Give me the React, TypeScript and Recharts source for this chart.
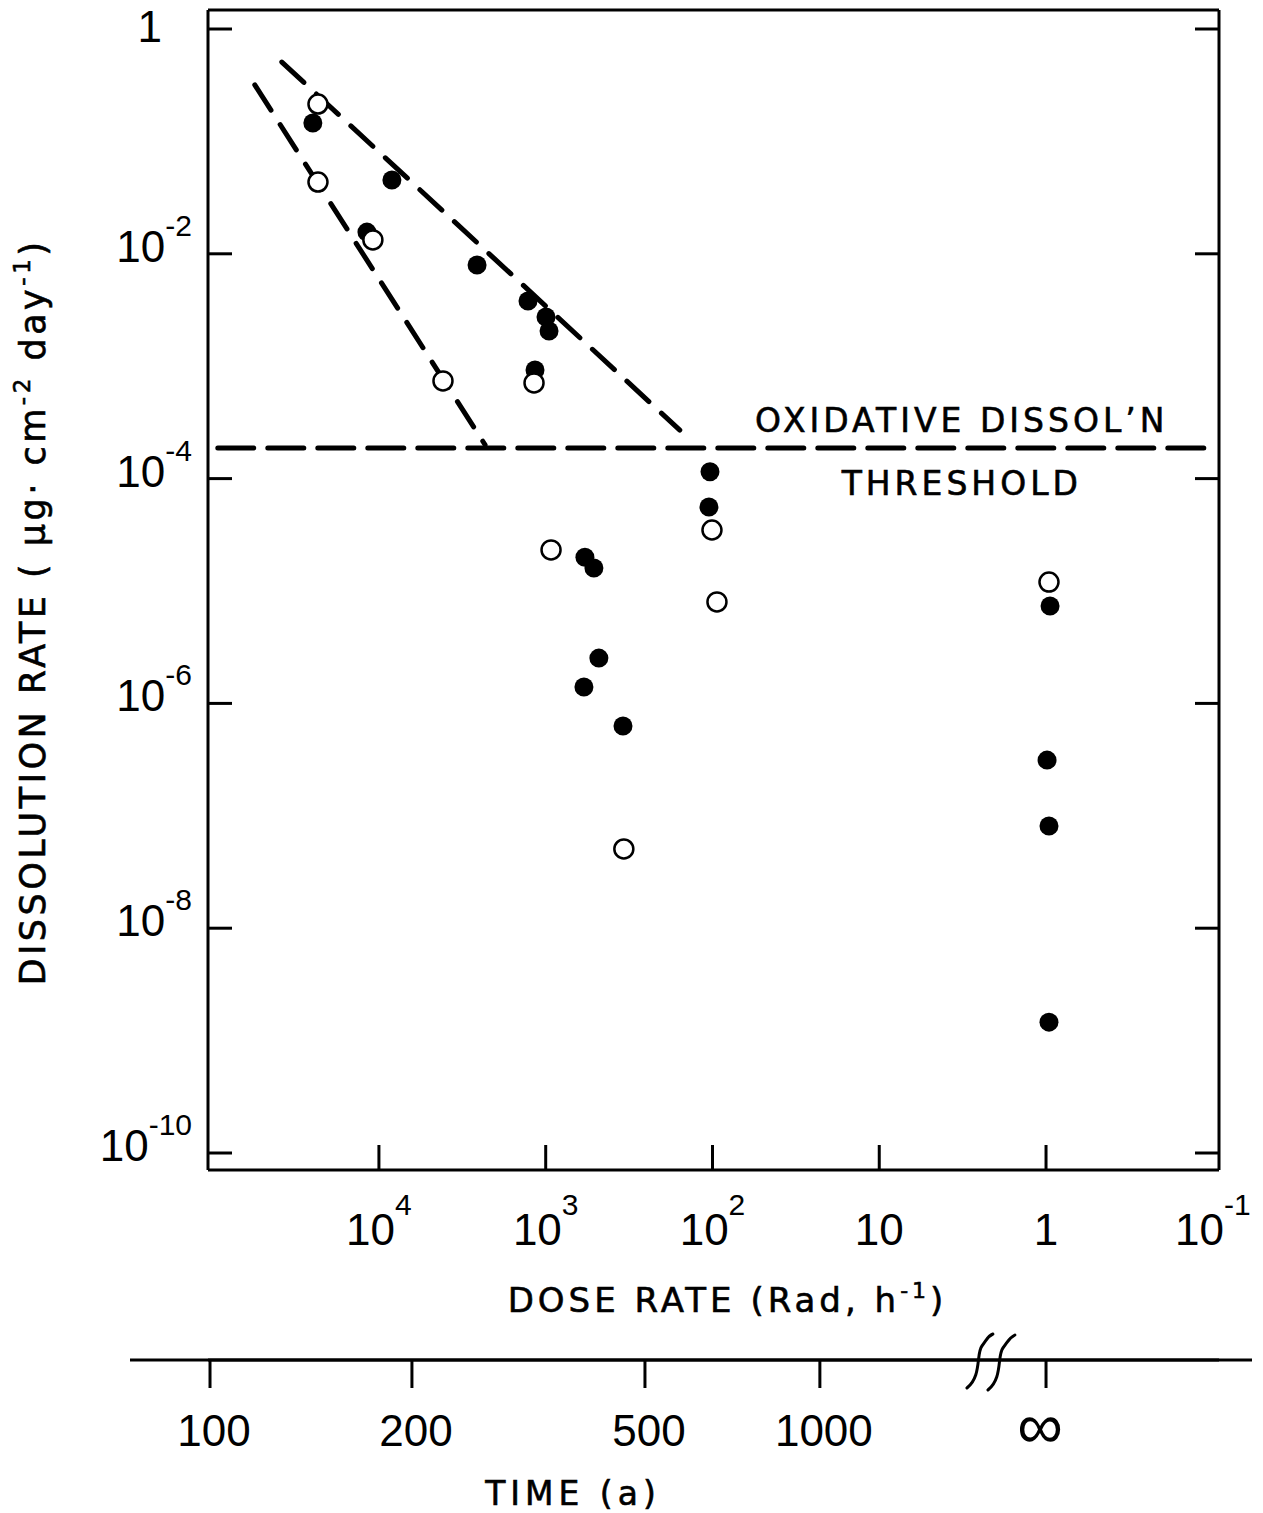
import { ScatterChart, Scatter, XAxis, YAxis, ReferenceLine } from "recharts"

// dose rate (Rad h-1) vs dissolution rate (ug cm-2 day-1)
const openDose = [23200, 23200, 10870, 4130, 1175, 929, 100.7, 94, 340, 0.96]
const openRate = [0.215, 0.0435, 0.0133, 7.4e-4, 7.1e-4, 2.32e-5, 3.49e-5, 8.0e-6, 5.07e-8, 1.2e-5]

const filledDose = [24900, 8360, 11800, 2580, 1277, 996, 955, 1159, 103.5, 105, 582, 514, 480, 590, 344, 0.946, 0.986, 0.96, 0.96]
const filledRate = [
  0.146, 0.0454, 0.0156, 7.95e-3, 3.8e-3, 2.74e-3, 2.06e-3, 9.25e-4, 1.15e-4, 5.59e-5, 2.0e-5, 1.6e-5,
  2.53e-6, 1.4e-6, 6.3e-7, 7.36e-6, 3.13e-7, 8.1e-8, 1.46e-9,
]

// dashed trend lines
const steepDose = [55500, 2310]
const steepRate = [0.318, 2.0e-4]
const shallowDose = [38200, 157]
const shallowRate = [0.508, 2.7e-4]

// oxidative dissolution threshold
const thresholdDose = [92500, 0.1]
const thresholdRate = 1.87e-4

const doseTicks = [1e4, 1e3, 1e2, 10, 1, 0.1]
const doseTickBase = ["10", "10", "10", "10", "1", "10"]
const doseTickSup = ["4", "3", "2", "", "", "-1"]

const rateTicks = [1, 1e-2, 1e-4, 1e-6, 1e-8, 1e-10]
const rateTickBase = ["1", "10", "10", "10", "10", "10"]
const rateTickSup = ["", "-2", "-4", "-6", "-8", "-10"]

// time axis, placed at the equivalent dose rate
const timeTickDose = [103000, 6340, 254, 22.7, 2.17, 1]
const timeTickLabels = ["100", "200", "500", "1000", "", "∞"]

const xDomain = [0.0918, 105900]
const yDomain = [7.06e-11, 1.476]

const TEXT_FONT = "'DejaVu Sans', sans-serif"
const NUM_FONT = "'Liberation Sans', Arial, sans-serif"

const openData = openDose.map((d, i) => ({ x: d, y: openRate[i] }))
const filledData = filledDose.map((d, i) => ({ x: d, y: filledRate[i] }))
const steepData = steepDose.map((d, i) => ({ x: d, y: steepRate[i] }))
const shallowData = shallowDose.map((d, i) => ({ x: d, y: shallowRate[i] }))

const dashLine = { stroke: "#000", strokeWidth: 5, strokeDasharray: "30 17", strokeLinecap: "round" as const }

function RateTick({ x, y, index }: any) {
  const sup = rateTickSup[index]
  return (
    <g>
      <line x1={x} x2={x + 24} y1={y} y2={y} stroke="#000" strokeWidth={3} />
      <text x={sup ? x - 16 : x - 46} y={sup ? y + 8 : y + 13} textAnchor="end" fontFamily={NUM_FONT} fontSize={44} fill="#000">
        <tspan>{rateTickBase[index]}</tspan>
        {sup && (
          <tspan dy={-26} fontSize={30}>
            {sup}
          </tspan>
        )}
      </text>
    </g>
  )
}

function RightTick({ x, y }: any) {
  return <line x1={x} x2={x - 24} y1={y} y2={y} stroke="#000" strokeWidth={3} />
}

function DoseTick({ x, y, index, payload }: any) {
  const sup = doseTickSup[index]
  return (
    <g>
      {payload.value >= 1 && <line x1={x} x2={x} y1={y} y2={y - 25} stroke="#000" strokeWidth={3} />}
      <text x={x} y={y + 75} textAnchor="middle" fontFamily={NUM_FONT} fontSize={44} fill="#000">
        <tspan>{doseTickBase[index]}</tspan>
        {sup && (
          <tspan dy={-30} fontSize={30}>
            {sup}
          </tspan>
        )}
      </text>
    </g>
  )
}

function TopTick({ x, y, payload }: any) {
  if (payload.value < 1) return <g />
  return <line x1={x} x2={x} y1={y} y2={y + 25} stroke="#000" strokeWidth={3} />
}

function TimeTick({ x, y, index }: any) {
  const label = timeTickLabels[index]
  if (!label) {
    // axis break
    return (
      <g fill="none" stroke="#000" strokeWidth={3} strokeLinecap="round">
        <path d={`M ${x - 23} ${y + 28} C ${x - 8} ${y + 16} ${x - 14} ${y - 6} ${x - 8} ${y - 14} S ${x - 2} ${y - 24} ${x + 3} ${y - 26}`} />
        <path d={`M ${x - 2} ${y + 30} C ${x + 13} ${y + 18} ${x + 7} ${y - 4} ${x + 13} ${y - 12} S ${x + 19} ${y - 22} ${x + 25} ${y - 25}`} />
      </g>
    )
  }
  const isInf = label === "∞"
  return (
    <g>
      <line x1={x} x2={x} y1={y} y2={y + 28} stroke="#000" strokeWidth={3} />
      <text
        x={isInf ? x - 6 : x + 4}
        y={isInf ? y + 88 : y + 86}
        textAnchor="middle"
        fontFamily={NUM_FONT}
        fontSize={isInf ? 64 : 44}
        fill="#000"
      >
        {label}
      </text>
    </g>
  )
}

function DoseTitle({ viewBox }: any) {
  const { x, y, width } = viewBox
  return (
    <text x={x + width / 2 + 14} y={y + 142} textAnchor="middle" fontFamily={TEXT_FONT} fontSize={34} letterSpacing={4} fill="#000" stroke="#000" strokeWidth={0.6}>
      <tspan>DOSE RATE (Rad, h</tspan>
      <tspan dy={-14} fontSize={22}>-1</tspan>
      <tspan dy={14}>)</tspan>
    </text>
  )
}

function TimeAxisDecor({ viewBox }: any) {
  const { x, y, width } = viewBox
  return (
    <g>
      <line x1={x - 78} x2={x + width + 33} y1={y} y2={y} stroke="#000" strokeWidth={3} />
      <text x={x + 365} y={y + 145} textAnchor="middle" fontFamily={TEXT_FONT} fontSize={33} letterSpacing={5} fill="#000" stroke="#000" strokeWidth={0.6}>
        TIME (a)
      </text>
    </g>
  )
}

function RateTitle({ viewBox }: any) {
  const cx = 45
  const cy = viewBox.y + 602
  return (
    <text transform={`translate(${cx},${cy}) rotate(-90)`} textAnchor="middle" fontFamily={TEXT_FONT} fontSize={35} letterSpacing={3.5} fill="#000" stroke="#000" strokeWidth={0.6}>
      <tspan>DISSOLUTION RATE ( μg· cm</tspan>
      <tspan dy={-15} fontSize={23}>-2</tspan>
      <tspan dy={15}> day</tspan>
      <tspan dy={-15} fontSize={23}>-1</tspan>
      <tspan dy={15}>)</tspan>
    </text>
  )
}

function ThresholdLabel({ viewBox }: any) {
  const { x, y, width } = viewBox
  const cx = x + width - 251
  return (
    <g fontFamily={TEXT_FONT} fontSize={33} letterSpacing={4} fill="#000" stroke="#000" strokeWidth={0.6} textAnchor="middle">
      <text x={cx} y={y - 16}>OXIDATIVE DISSOL’N</text>
      <text x={cx} y={y + 47}>THRESHOLD</text>
    </g>
  )
}

function OpenDot({ cx, cy }: any) {
  return <circle cx={cx} cy={cy} r={9.5} fill="#fff" stroke="#000" strokeWidth={2.5} />
}

function FilledDot({ cx, cy }: any) {
  return <circle cx={cx} cy={cy} r={9.5} fill="#000" />
}

function NoDot() {
  return <g />
}

export default function App() {
  const frame = { stroke: "#000", strokeWidth: 3 }
  return (
    <div style={{ position: "absolute", left: 0, top: 0, width: 1263, height: 1513, background: "#fff" }}>
      <ScatterChart width={1263} height={1513} margin={{ top: 0, right: 0, bottom: 0, left: 0 }}>
        <XAxis
          xAxisId="dose"
          dataKey="x"
          type="number"
          scale="log"
          domain={xDomain}
          allowDataOverflow
          reversed
          orientation="bottom"
          height={190}
          ticks={doseTicks}
          interval={0}
          tickSize={0}
          tickMargin={0}
          tickLine={false}
          axisLine={frame}
          tick={<DoseTick />}
          label={{ content: DoseTitle }}
        />
        <XAxis
          xAxisId="time"
          dataKey="x"
          type="number"
          scale="log"
          domain={xDomain}
          allowDataOverflow
          reversed
          orientation="bottom"
          height={153}
          ticks={timeTickDose}
          interval={0}
          tickSize={0}
          tickMargin={0}
          tickLine={false}
          axisLine={frame}
          tick={<TimeTick />}
          label={{ content: TimeAxisDecor }}
        />
        <XAxis
          xAxisId="top"
          type="number"
          scale="log"
          domain={xDomain}
          allowDataOverflow
          reversed
          orientation="top"
          height={10}
          ticks={doseTicks}
          interval={0}
          tickSize={0}
          tickMargin={0}
          tickLine={false}
          axisLine={frame}
          tick={<TopTick />}
        />
        <YAxis
          yAxisId="left"
          dataKey="y"
          type="number"
          scale="log"
          domain={yDomain}
          allowDataOverflow
          width={208}
          ticks={rateTicks}
          interval={0}
          tickSize={0}
          tickMargin={0}
          tickLine={false}
          axisLine={frame}
          tick={<RateTick />}
          label={{ content: RateTitle }}
        />
        <YAxis
          yAxisId="right"
          type="number"
          scale="log"
          domain={yDomain}
          allowDataOverflow
          orientation="right"
          width={44}
          ticks={rateTicks}
          interval={0}
          tickSize={0}
          tickMargin={0}
          tickLine={false}
          axisLine={frame}
          tick={<RightTick />}
        />
        <ReferenceLine
          xAxisId="dose"
          yAxisId="left"
          segment={[
            { x: thresholdDose[0], y: thresholdRate },
            { x: thresholdDose[1], y: thresholdRate },
          ]}
          stroke="#000"
          strokeWidth={5}
          strokeDasharray="36 14"
          strokeLinecap="round"
          label={{ content: ThresholdLabel }}
        />
        <Scatter xAxisId="dose" yAxisId="left" data={steepData} line={dashLine} shape={NoDot} fill="none" isAnimationActive={false} />
        <Scatter xAxisId="dose" yAxisId="left" data={shallowData} line={dashLine} shape={NoDot} fill="none" isAnimationActive={false} />
        <Scatter xAxisId="dose" yAxisId="left" data={filledData} shape={FilledDot} isAnimationActive={false} />
        <Scatter xAxisId="dose" yAxisId="left" data={openData} shape={OpenDot} isAnimationActive={false} />
      </ScatterChart>
    </div>
  )
}
